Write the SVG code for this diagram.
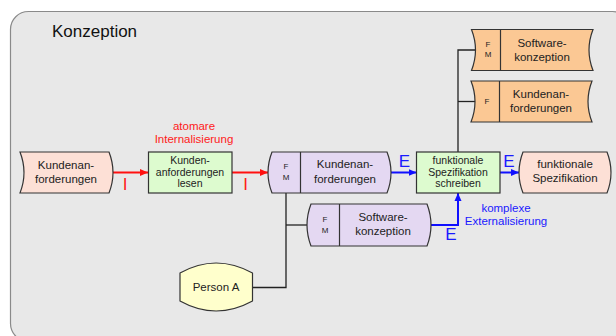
<svg xmlns="http://www.w3.org/2000/svg" width="616" height="336" viewBox="0 0 616 336">
  <defs>
    <marker id="arrRed" viewBox="0 0 8 8" refX="8" refY="4" markerWidth="8" markerHeight="8" markerUnits="userSpaceOnUse" orient="auto">
      <path d="M0,0.5 L8,4 L0,7.5 Z" fill="#ff1010"/>
    </marker>
    <marker id="arrBlue" viewBox="0 0 8 8" refX="8" refY="4" markerWidth="8" markerHeight="8" markerUnits="userSpaceOnUse" orient="auto">
      <path d="M0,0.5 L8,4 L0,7.5 Z" fill="#1010ff"/>
    </marker>
    <style>
      text { font-family: "Liberation Sans", Arial, sans-serif; }
      .shape { stroke: #333; stroke-width: 1.2; }
      .info { fill: #fde0d6; }
      .func { fill: #ddfbcf; }
      .carrier { fill: #e4d8f2; }
      .know { fill: #fbc894; }
      .person { fill: #ffffcc; }
      .lbl { font-size: 11.5px; fill: #222; text-anchor: middle; }
      .flbl { font-size: 10.5px; fill: #222; text-anchor: middle; }
      .tag { font-size: 8px; fill: #222; text-anchor: middle; }
      .red { fill: #ff1a1a; }
      .blue { fill: #1a1aff; }
      .big { font-size: 17px; text-anchor: middle; }
      .note { font-size: 11.5px; text-anchor: middle; }
      .link { fill: none; stroke: #222; stroke-width: 1.3; }
      .redArrow { fill: none; stroke: #ff1010; stroke-width: 2; marker-end: url(#arrRed); }
      .blueArrow { fill: none; stroke: #1010ff; stroke-width: 2; marker-end: url(#arrBlue); }
    </style>
  </defs>

  <!-- swimlane frame -->
  <rect x="10.5" y="11.5" width="620" height="330" rx="18" ry="18" fill="#e8e8e8" stroke="#8a8a8a" stroke-width="1.2"/>
  <text x="52" y="37" font-size="17" fill="#111">Konzeption</text>

  <!-- connectors -->
  <g id="connectors">
    <path class="link" d="M458,152 V50 H475.5"/>
    <path class="link" d="M458,101.5 H475"/>
    <path class="link" d="M286,193 V287.5 H252.5"/>
    <path class="link" d="M286,225 H307" stroke="#555"/>
    <path class="redArrow" d="M113,172.5 H148"/>
    <path class="redArrow" d="M232,172.5 H268"/>
    <path class="blueArrow" d="M391,172.5 H416.5"/>
    <path class="blueArrow" d="M500,172.5 H519"/>
    <path class="blueArrow" d="M431,225 H458 V193"/>
    <text class="red big" x="125" y="190">I</text>
    <text class="red big" x="245.5" y="190">I</text>
    <text class="blue big" x="404.5" y="167">E</text>
    <text class="blue big" x="509" y="167">E</text>
    <text class="blue big" x="451" y="240">E</text>
    <text class="red note" x="194" y="130">atomare</text>
    <text class="red note" x="194" y="143">Internalisierung</text>
    <text class="blue note" x="506" y="212">komplexe</text>
    <text class="blue note" x="506" y="225">Externalisierung</text>
  </g>

  <!-- input information -->
  <g id="kundenanforderungen-in">
    <path class="shape info" d="M20,152 H109 Q117,172.5 109,193 H20 Q28,172.5 20,152 Z"/>
    <text class="lbl" x="66" y="169">Kundenan-</text>
    <text class="lbl" x="66" y="183">forderungen</text>
  </g>

  <!-- function: read requirements -->
  <g id="fn-lesen">
    <rect class="shape func" x="148.5" y="152" width="83.5" height="41"/>
    <text class="flbl" x="190" y="163.5">Kunden-</text>
    <text class="flbl" x="190" y="175.5">anforderungen</text>
    <text class="flbl" x="190" y="187">lesen</text>
  </g>

  <!-- knowledge carrier: requirements -->
  <g id="wissen-kundenanforderungen">
    <path class="shape carrier" d="M272,152 H387 Q395,172.5 387,193 H272 Q264,172.5 272,152 Z"/>
    <line class="shape" x1="300.5" y1="152" x2="300.5" y2="193"/>
    <text class="tag" x="286" y="169">F</text>
    <text class="tag" x="286" y="180">M</text>
    <text class="lbl" x="345" y="168">Kundenan-</text>
    <text class="lbl" x="345" y="182.5">forderungen</text>
  </g>

  <!-- knowledge carrier: software concept -->
  <g id="wissen-softwarekonzeption">
    <path class="shape carrier" d="M311,204 H427 Q435,225 427,246 H311 Q303,225 311,204 Z"/>
    <line class="shape" x1="339.5" y1="204" x2="339.5" y2="246"/>
    <text class="tag" x="325" y="222">F</text>
    <text class="tag" x="325" y="233">M</text>
    <text class="lbl" x="383" y="221">Software-</text>
    <text class="lbl" x="383" y="235">konzeption</text>
  </g>

  <!-- function: write functional specification -->
  <g id="fn-spezifikation">
    <rect class="shape func" x="416.5" y="152" width="83.5" height="41"/>
    <text class="flbl" x="458" y="164">funktionale</text>
    <text class="flbl" x="458" y="176">Spezifikation</text>
    <text class="flbl" x="458" y="187">schreiben</text>
  </g>

  <!-- output information -->
  <g id="funktionale-spezifikation">
    <path class="shape info" d="M523,152 H607 Q615,172.5 607,193 H523 Q515,172.5 523,152 Z"/>
    <text class="lbl" x="565" y="168">funktionale</text>
    <text class="lbl" x="565" y="182">Spezifikation</text>
  </g>

  <!-- knowledge categories -->
  <g id="kategorie-softwarekonzeption">
    <path class="shape know" d="M471.5,29.5 H593 Q585,50 593,70.5 H471.5 Q479.5,50 471.5,29.5 Z"/>
    <line class="shape" x1="500.5" y1="29.5" x2="500.5" y2="70.5"/>
    <text class="tag" x="488" y="47">F</text>
    <text class="tag" x="488" y="57">M</text>
    <text class="lbl" x="542" y="47">Software-</text>
    <text class="lbl" x="542" y="61">konzeption</text>
  </g>
  <g id="kategorie-kundenanforderungen">
    <path class="shape know" d="M471,81 H592 Q584,101.5 592,122 H471 Q479,101.5 471,81 Z"/>
    <line class="shape" x1="499.5" y1="81" x2="499.5" y2="122"/>
    <text class="tag" x="487" y="104">F</text>
    <text class="lbl" x="541" y="98">Kundenan-</text>
    <text class="lbl" x="541" y="112">forderungen</text>
  </g>

  <!-- person -->
  <g id="person-a">
    <path class="shape person" d="M180,273 Q216,253 252.5,273 V301 Q216,321 180,301 Z"/>
    <text class="lbl" x="216" y="291">Person A</text>
  </g>
</svg>
